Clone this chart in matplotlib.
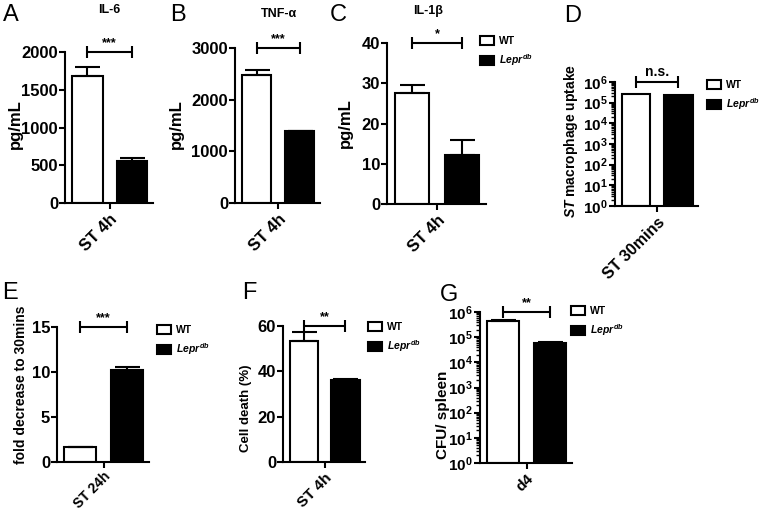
import numpy as np
import matplotlib
matplotlib.use("Agg")
import matplotlib.pyplot as plt

plt.rcParams["font.family"] = ["Liberation Sans", "DejaVu Sans"]
plt.rcParams["font.weight"] = "bold"
plt.rcParams["axes.linewidth"] = 1.5
plt.rcParams["mathtext.fontset"] = "custom"
plt.rcParams["mathtext.rm"] = "Liberation Sans:bold"
plt.rcParams["mathtext.bf"] = "Liberation Sans:bold"
plt.rcParams["mathtext.it"] = "Liberation Sans:italic"

# data (WT, Lepr db)
groups = ["WT", r"$Lepr^{db}$"]
il6_mean = [1680, 556]
il6_err = [120, 40]
tnf_mean = [2470, 1400]
tnf_err = [105, 0]
il1b_mean = [27.6, 12.2]
il1b_err = [2.0, 3.7]
uptake_mean = [2.6e5, 2.4e5]
uptake_err = [0, 0]
fold_mean = [1.65, 10.2]
fold_err = [0, 0.35]
death_mean = [53.4, 36.2]
death_err = [4.0, 0.2]
cfu_mean = [4.4e5, 5.9e4]
cfu_err = [6e4, 4e3]

W, H = 762, 512
fig = plt.figure(figsize=(W / 100, H / 100), dpi=100)


def px_axes(l, r, t, b):
    return fig.add_axes([l / W, 1 - b / H, (r - l) / W, (b - t) / H])


def fig_text(x, y, s, **kw):
    kw.setdefault("ha", "center")
    kw.setdefault("va", "center")
    fig.text(x / W, 1 - y / H, s, **kw)


def draw_panel(ax, means, errs, ymax, ticks, xlabel, sig, log=False,
               legend_at=None, sig_size=9, xsize=12, xpad=2):
    x = np.array([0.0, 1.0])
    bottom = 1 if log else 0
    b1 = ax.bar(x[0], means[0] - bottom, bottom=bottom, width=0.68,
                color="white", edgecolor="black", linewidth=1.5, zorder=2)
    b2 = ax.bar(x[1], means[1] - bottom, bottom=bottom, width=0.68,
                color="black", edgecolor="black", linewidth=1.5, zorder=2)
    if any(e > 0 for e in errs):
        ax.errorbar(x, means, yerr=[np.zeros(2), errs], fmt="none",
                    ecolor="black", elinewidth=1.5, capsize=9,
                    capthick=1.5, zorder=3)
    for sp in ["top", "right"]:
        ax.spines[sp].set_visible(False)
    ax.set_xlim(-0.5, 1.47)
    if log:
        ax.set_yscale("log")
        ax.set_ylim(1, ymax)
        ax.set_yticks(ticks)
        ax.set_yticklabels([rf"$\mathbf{{10^{{{int(np.log10(t))}}}}}$" for t in ticks])
        ax.yaxis.set_minor_locator(matplotlib.ticker.LogLocator(base=10, subs=np.arange(2, 10), numticks=20))
        ax.yaxis.set_minor_formatter(matplotlib.ticker.NullFormatter())
        ax.tick_params(axis="y", which="minor", length=3, width=1)
        ax.tick_params(axis="y", which="major", labelsize=11, pad=1)
    else:
        ax.set_ylim(0, ymax)
        ax.set_yticks(ticks)
        ax.tick_params(axis="y", labelsize=12, pad=1)
    ax.tick_params(axis="both", which="major", length=4, width=1.5)
    ax.set_xticks([0.5])
    ax.set_xticklabels([xlabel], rotation=45, ha="right",
                       rotation_mode="anchor", fontsize=xsize)
    ax.tick_params(axis="x", pad=xpad)

    br = ax.errorbar(0.5, ymax, xerr=0.5, fmt="none", ecolor="black",
                     elinewidth=1.5, capsize=4, capthick=1.5)
    for art in br.lines[1] + br.lines[2]:
        art.set_clip_on(False)
    ax.annotate(sig, xy=(0.5, ymax), xytext=(0, 2),
                textcoords="offset points", ha="center", va="bottom",
                fontsize=sig_size, annotation_clip=False)

    if legend_at is not None:
        ax.legend([b1, b2], groups, loc="upper left",
                  bbox_to_anchor=(legend_at[0] / W, 1 - legend_at[1] / H),
                  bbox_transform=fig.transFigure, frameon=False,
                  prop={"size": 7.5, "weight": "bold"}, handlelength=1.35,
                  handleheight=0.95, handletextpad=0.5, labelspacing=0.6,
                  borderpad=0, borderaxespad=0)


# A
ax = px_axes(65, 153, 52, 203)
draw_panel(ax, il6_mean, il6_err, 2000, [0, 500, 1000, 1500, 2000], "ST 4h", "***")
# B
ax = px_axes(235, 320, 48, 203)
draw_panel(ax, tnf_mean, tnf_err, 3000, [0, 1000, 2000, 3000], "ST 4h", "***")
# C
ax = px_axes(387, 486, 43, 204)
draw_panel(ax, il1b_mean, il1b_err, 40, [0, 10, 20, 30, 40], "ST 4h", "*",
           legend_at=(480, 36))
# D
ax = px_axes(615, 698, 82, 206)
draw_panel(ax, uptake_mean, uptake_err, 1e6, [10 ** k for k in range(7)],
           "ST 30mins", "n.s.", log=True, legend_at=(707, 80), sig_size=10,
           xsize=11.5)
# E
ax = px_axes(57, 149, 327, 462)
draw_panel(ax, fold_mean, fold_err, 15, [0, 5, 10, 15], "ST 24h", "***",
           legend_at=(157, 325), xsize=10, xpad=1)
# F
ax = px_axes(283, 365, 326, 462)
draw_panel(ax, death_mean, death_err, 60, [0, 20, 40, 60], "ST 4h", "**",
           legend_at=(368, 322), xsize=11)
# G
ax = px_axes(480, 572, 312, 463)
draw_panel(ax, cfu_mean, cfu_err, 1e6, [10 ** k for k in range(7)],
           "d4", "**", log=True, legend_at=(571, 306), xsize=11)

# titles
fig_text(109, 10, "IL-6", fontsize=9)
fig_text(279, 14, "TNF-\u03b1", fontsize=9)
fig_text(428, 11, "IL-1\u03b2", fontsize=9)

# y labels
fig_text(15, 124, "pg/mL", rotation=90, fontsize=12)
fig_text(176, 124, "pg/mL", rotation=90, fontsize=12)
fig_text(345, 123, "pg/mL", rotation=90, fontsize=12)
fig_text(571, 141, r"$\mathit{ST}$ macrophage uptake", rotation=90, fontsize=10)
fig_text(21, 385, "fold decrease to 30mins", rotation=90, fontsize=10)
fig_text(246, 408, "Cell death (%)", rotation=90, fontsize=9.5)
fig_text(443, 415, "CFU/ spleen", rotation=90, fontsize=11)

# panel letters
for letter, px, py in [("A", 11, 15), ("B", 178, 15), ("C", 338, 15),
                       ("D", 573, 16), ("E", 10, 293), ("F", 249, 293),
                       ("G", 449, 295)]:
    fig_text(px, py, letter, fontsize=17, fontweight="normal")

fig.savefig("out.png", dpi=100)
